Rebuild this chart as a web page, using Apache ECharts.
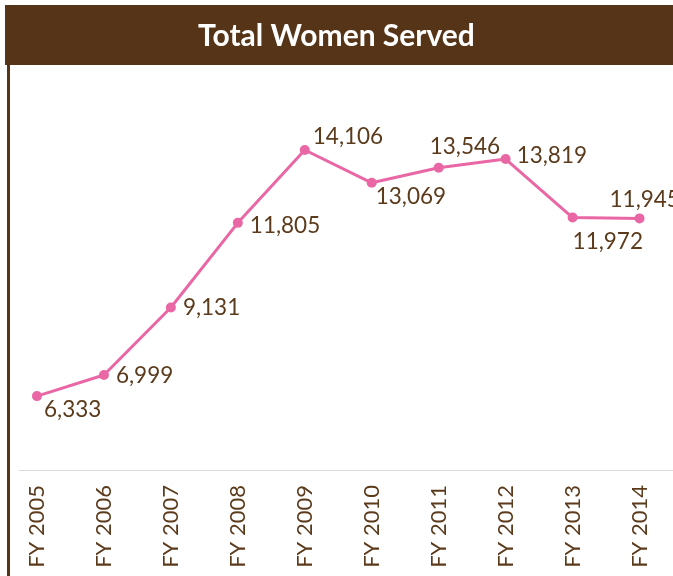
<!DOCTYPE html>
<html>
<head>
<meta charset="utf-8">
<script src="https://cdn.jsdelivr.net/npm/echarts@6/dist/echarts.min.js"></script>
<style>
  html, body { margin: 0; padding: 0; background: #fff; }
  #chart { width: 673px; height: 576px; }
</style>
</head>
<body>
<div id="chart"></div>
<script>
var years = ['FY 2005','FY 2006','FY 2007','FY 2008','FY 2009','FY 2010','FY 2011','FY 2012','FY 2013','FY 2014'];
var womenServed = [6333, 6999, 9131, 11805, 14106, 13069, 13546, 13819, 11972, 11945];
// label nudges per point (from reference)
var labelOffsets = [[-3,14],[2,1],[2,0],[2,3],[-2,-13],[-6,14],[-19,-21],[1,-3],[-10,24],[-40,-19]];

var brown = '#553418';
var textBrown = '#5b3b1c';
var pink = '#ea67a5';

var seriesData = [];
for (var i = 0; i < womenServed.length; i++) {
  seriesData.push({
    value: womenServed[i],
    label: { offset: labelOffsets[i] }
  });
}

var chart = echarts.init(document.getElementById('chart'));
var option = {
  animation: false,
  textStyle: { fontFamily: 'Lato' },
  graphic: [
    { type: 'rect', left: 5, top: 5, shape: { width: 668, height: 60 }, style: { fill: brown } },
    { type: 'rect', left: 7, top: 65, shape: { width: 3, height: 511 }, style: { fill: brown } },
    { type: 'rect', left: 19, top: 470, shape: { width: 654, height: 1 }, style: { fill: '#d9d9d9' } },
    {
      type: 'text', left: 'center', top: 21,
      style: { text: 'Total Women Served', fill: '#fff', font: 'bold 30px Lato' }
    }
  ],
  grid: { left: 3.5, top: 90, right: -7, height: 380 },
  xAxis: {
    type: 'category',
    data: years,
    boundaryGap: true,
    axisLine: { show: false },
    axisTick: { show: false },
    axisLabel: { rotate: 90, color: textBrown, fontSize: 22, margin: 15, interval: 0 }
  },
  yAxis: {
    type: 'value',
    min: 4000, max: 16000,
    show: false,
    splitLine: { show: false }
  },
  series: [{
    type: 'line',
    data: seriesData,
    symbol: 'circle',
    symbolSize: 10,
    lineStyle: { color: pink, width: 3 },
    itemStyle: { color: pink },
    label: {
      show: true,
      position: 'right',
      distance: 5,
      color: textBrown,
      fontSize: 22.5,
      formatter: function (p) { return p.value.toLocaleString('en-US'); }
    }
  }]
};
chart.setOption(option);
</script>
</body>
</html>
